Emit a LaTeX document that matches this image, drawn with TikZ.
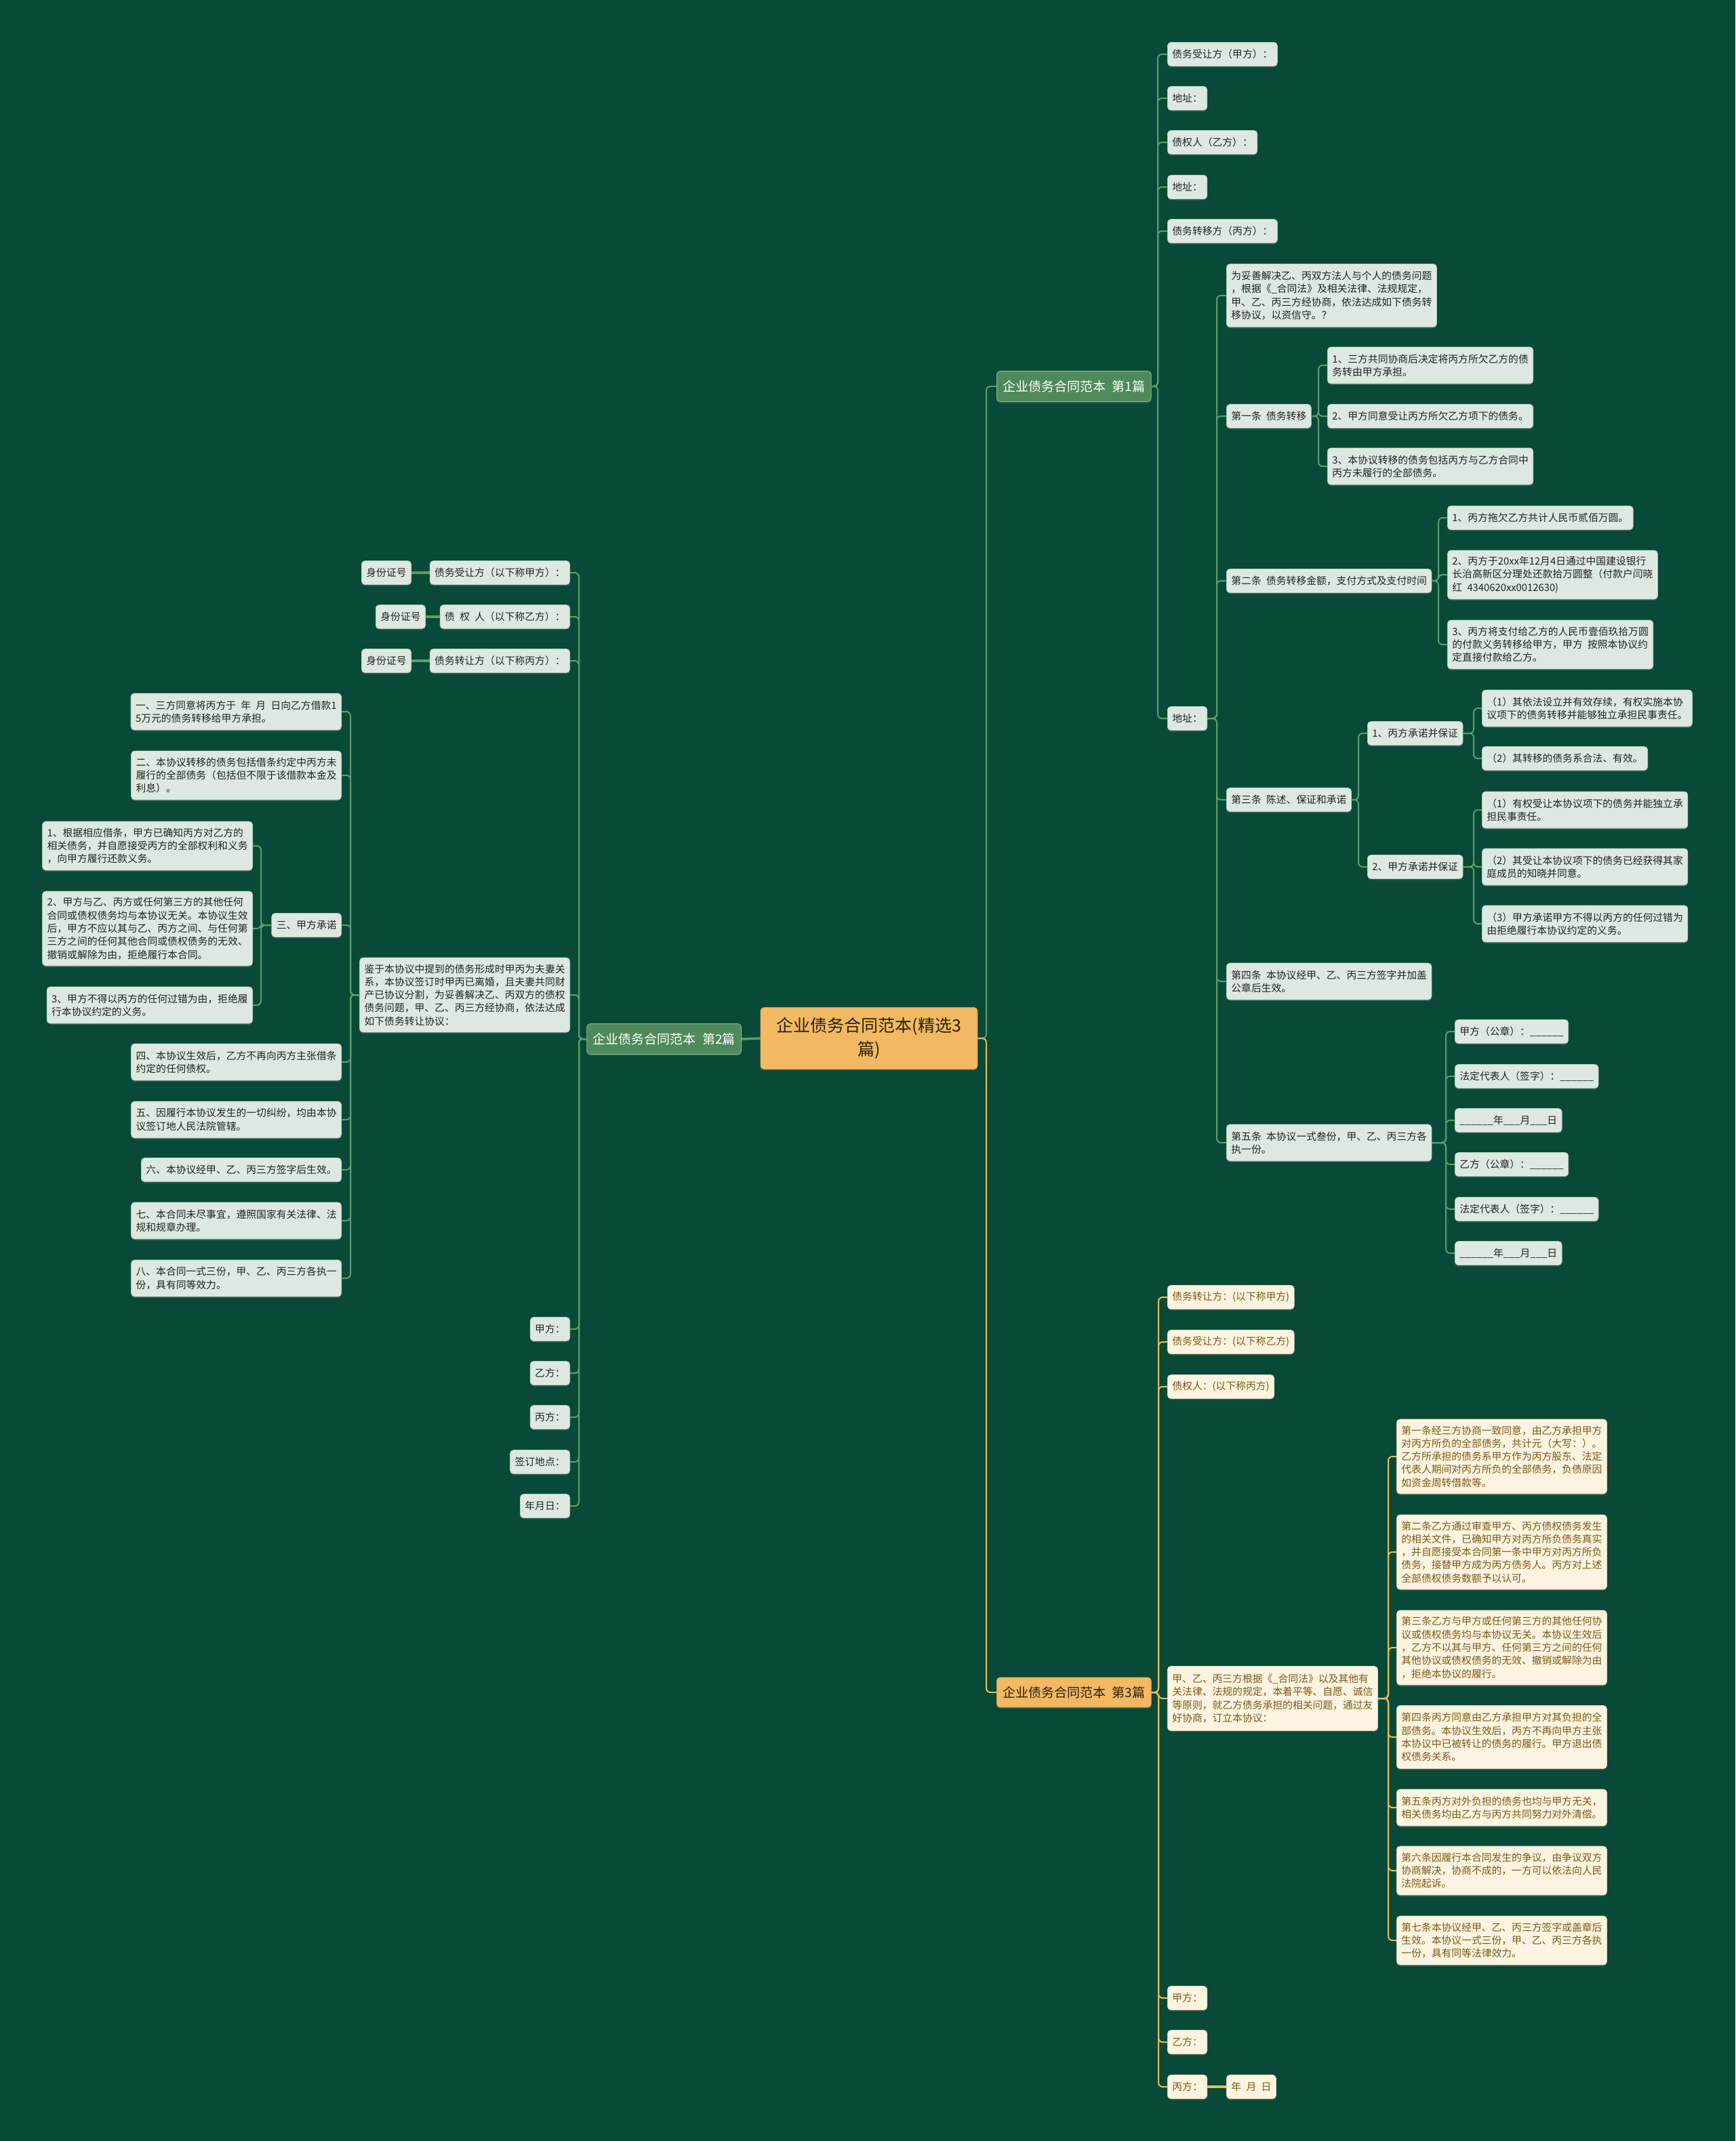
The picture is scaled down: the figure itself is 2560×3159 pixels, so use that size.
\documentclass[tikz,border=0pt]{standalone}
\usepackage{fontspec}
\newfontfamily\cjk[WordSpace=2.2]{Noto Sans CJK SC}
\usetikzlibrary{shadows}
\definecolor{bg}{HTML}{084937}
\definecolor{gfill}{HTML}{DDE9E0}
\definecolor{gline}{HTML}{B3CDB9}
\definecolor{gtext}{HTML}{222222}
\definecolor{gbr}{HTML}{4F8A5B}
\definecolor{gbrline}{HTML}{8DBC96}
\definecolor{gconn}{HTML}{5F9D6B}
\definecolor{orn}{HTML}{F2B962}
\definecolor{ornline}{HTML}{D9A04B}
\definecolor{orntext}{HTML}{2B2110}
\definecolor{yfill}{HTML}{FDF3E1}
\definecolor{yline}{HTML}{E9D6B0}
\definecolor{ytext}{HTML}{7A5A14}
\definecolor{yconn}{HTML}{E2C05A}
\newcommand\rlinks[3]{\foreach \c in {#3}{\draw[#1] (#2.east) -- (#2.east -| T#2) |- (\c.west);}}
\newcommand\llinks[3]{\foreach \c in {#3}{\draw[#1] (#2.west) -- (#2.west -| T#2) |- (\c.east);}}
\begin{document}
\begin{tikzpicture}[x=1pt,y=-1pt,
  base/.style={rounded corners=5pt, inner xsep=7pt, inner ysep=2pt, align=left, line width=0.8pt,
    drop shadow={shadow xshift=0pt,shadow yshift=-2pt,opacity=.35}},
  gn/.style={base, fill=gfill, draw=gline, text=gtext, font=\cjk\fontsize{14.8pt}{19.3pt}\selectfont},
  yn/.style={base, fill=yfill, draw=yline, text=ytext, font=\cjk\fontsize{14.8pt}{19.3pt}\selectfont},
  gb/.style={base, fill=gbr, draw=gbrline, text=white, font=\cjk\fontsize{19pt}{24pt}\selectfont, inner xsep=9pt, minimum height=45},
  ob/.style={base, fill=orn, draw=ornline, text=orntext, font=\cjk\fontsize{19pt}{24pt}\selectfont, inner xsep=9pt, minimum height=44},
  gc/.style={draw=gconn, line width=2pt, rounded corners=6pt},
  yc/.style={draw=yconn, line width=2pt, rounded corners=6pt},
  gs/.style={draw=gconn, line width=3.5pt},
  ys/.style={draw=yconn, line width=3.5pt},
  h1/.style={minimum height=35}, h2/.style={minimum height=54}, h3/.style={minimum height=72},
  h4/.style={minimum height=93}, h5/.style={minimum height=110},
  W/.style={anchor=west}, E/.style={anchor=east}]
\fill[bg] (0,0) rectangle (2560,3159);
\useasboundingbox (0,0) rectangle (2560,3159);

% root
\node[base, fill=orn, draw=ornline, text=orntext, align=center, minimum width=320, minimum height=91,
  font=\cjk\fontsize{25pt}{35pt}\selectfont] (root) at (1282,1532) {企业债务合同范本(精选3\\篇)};

% ---------------- branch 1
\node[gb,W] (b1) at (1470,570) {企业债务合同范本 第1篇};
\node[gn,h1,W] (a1) at (1722,80) {债务受让方（甲方）：};
\node[gn,h1,W] (a2) at (1722,145) {地址：};
\node[gn,h1,W] (a3) at (1722,210) {债权人（乙方）：};
\node[gn,h1,W] (a4) at (1722,276) {地址：};
\node[gn,h1,W] (a5) at (1722,341) {债务转移方（丙方）：};
\node[gn,h1,W] (a6) at (1722,1060) {地址：};

\node[gn,h4,W] (c1) at (1809,436) {为妥善解决乙、丙双方法人与个人的债务问题\\，根据《\_合同法》及相关法律、法规规定，\\甲、乙、丙三方经协商，依法达成如下债务转\\移协议，以资信守。？};
\node[gn,h1,W] (c2) at (1809,614) {第一条 债务转移};
\node[gn,h1,W] (c3) at (1809,857) {第二条 债务转移金额，支付方式及支付时间};
\node[gn,h1,W] (c4) at (1809,1180) {第三条 陈述、保证和承诺};
\node[gn,h2,W] (c5) at (1809,1448) {第四条 本协议经甲、乙、丙三方签字并加盖\\公章后生效。};
\node[gn,h2,W] (c6) at (1809,1686) {第五条 本协议一式叁份，甲、乙、丙三方各\\执一份。};

\node[gn,h2,W] (d1) at (1958,539) {1、三方共同协商后决定将丙方所欠乙方的债\\务转由甲方承担。};
\node[gn,h1,W] (d2) at (1958,614) {2、甲方同意受让丙方所欠乙方项下的债务。};
\node[gn,h2,W] (d3) at (1958,688) {3、本协议转移的债务包括丙方与乙方合同中\\丙方未履行的全部债务。};

\node[gn,h1,W] (f1) at (2135,764) {1、丙方拖欠乙方共计人民币贰佰万圆。};
\node[gn,h3,W] (f2) at (2135,848) {2、丙方于20xx年12月4日通过中国建设银行\\长治高新区分理处还款拾万圆整（付款户闫晓\\红 4340620xx0012630)};
\node[gn,h3,W] (f3) at (2135,951) {3、丙方将支付给乙方的人民币壹佰玖拾万圆\\的付款义务转移给甲方，甲方 按照本协议约\\定直接付款给乙方。};

\node[gn,h1,W] (e1) at (2017,1082) {1、丙方承诺并保证};
\node[gn,h1,W] (e2) at (2017,1279) {2、甲方承诺并保证};
\node[gn,h2,W] (e11) at (2186,1045) {（1）其依法设立并有效存续，有权实施本协\\议项下的债务转移并能够独立承担民事责任。};
\node[gn,h1,W] (e12) at (2186,1119) {（2）其转移的债务系合法、有效。};
\node[gn,h2,W] (e21) at (2186,1195) {（1）有权受让本协议项下的债务并能独立承\\担民事责任。};
\node[gn,h2,W] (e22) at (2186,1279) {（2）其受让本协议项下的债务已经获得其家\\庭成员的知晓并同意。};
\node[gn,h2,W] (e23) at (2186,1363) {（3）甲方承诺甲方不得以丙方的任何过错为\\由拒绝履行本协议约定的义务。};

\node[gn,h1,W] (g1) at (2146,1522) {甲方（公章）：\_\_\_\_\_\_};
\node[gn,h1,W] (g2) at (2146,1588) {法定代表人（签字）：\_\_\_\_\_\_};
\node[gn,h1,W] (g3) at (2146,1653) {\_\_\_\_\_\_年\_\_\_月\_\_\_日};
\node[gn,h1,W] (g4) at (2146,1718) {乙方（公章）：\_\_\_\_\_\_};
\node[gn,h1,W] (g5) at (2146,1784) {法定代表人（签字）：\_\_\_\_\_\_};
\node[gn,h1,W] (g6) at (2146,1849) {\_\_\_\_\_\_年\_\_\_月\_\_\_日};

% ---------------- branch 3
\node[ob,W] (b3) at (1470,2497) {企业债务合同范本 第3篇};
\node[yn,h1,W] (y1) at (1722,1914) {债务转让方：(以下称甲方)};
\node[yn,h1,W] (y2) at (1722,1980) {债务受让方：(以下称乙方)};
\node[yn,h1,W] (y3) at (1722,2046) {债权人：(以下称丙方)};
\node[yn,minimum height=95,W] (yp) at (1722,2506) {甲、乙、丙三方根据《\_合同法》以及其他有\\关法律、法规的规定，本着平等、自愿、诚信\\等原则，就乙方债务承担的相关问题，通过友\\好协商，订立本协议：};
\node[yn,h1,W] (y5) at (1722,2948) {甲方：};
\node[yn,h1,W] (y6) at (1722,3013) {乙方：};
\node[yn,h1,W] (y7) at (1722,3079) {丙方：};
\node[yn,h1,W] (y8) at (1809,3079) {年 月 日};

\node[yn,h5,W] (p1) at (2060,2149) {第一条经三方协商一致同意，由乙方承担甲方\\对丙方所负的全部债务，共计元（大写：）。\\乙方所承担的债务系甲方作为丙方股东、法定\\代表人期间对丙方所负的全部债务，负债原因\\如资金周转借款等。};
\node[yn,h5,W] (p2) at (2060,2290) {第二条乙方通过审查甲方、丙方债权债务发生\\的相关文件，已确知甲方对丙方所负债务真实\\，并自愿接受本合同第一条中甲方对丙方所负\\债务，接替甲方成为丙方债务人。丙方对上述\\全部债权债务数额予以认可。};
\node[yn,h5,W] (p3) at (2060,2431) {第三条乙方与甲方或任何第三方的其他任何协\\议或债权债务均与本协议无关。本协议生效后\\，乙方不以其与甲方、任何第三方之间的任何\\其他协议或债权债务的无效、撤销或解除为由\\，拒绝本协议的履行。};
\node[yn,h4,W] (p4) at (2060,2563) {第四条丙方同意由乙方承担甲方对其负担的全\\部债务。本协议生效后，丙方不再向甲方主张\\本协议中已被转让的债务的履行。甲方退出债\\权债务关系。};
\node[yn,h2,W] (p5) at (2060,2667) {第五条丙方对外负担的债务也均与甲方无关，\\相关债务均由乙方与丙方共同努力对外清偿。};
\node[yn,h3,W] (p6) at (2060,2760) {第六条因履行本合同发生的争议，由争议双方\\协商解决，协商不成的，一方可以依法向人民\\法院起诉。};
\node[yn,h3,W] (p7) at (2060,2863) {第七条本协议经甲、乙、丙三方签字或盖章后\\生效。本协议一式三份，甲、乙、丙三方各执\\一份，具有同等法律效力。};

% ---------------- branch 2
\node[gb,E] (b2) at (1094,1533) {企业债务合同范本 第2篇};
\node[gn,h1,E] (k1) at (841,845) {债务受让方（以下称甲方）：};
\node[gn,h1,E] (k2) at (841,910) {债 权 人（以下称乙方）：};
\node[gn,h1,E] (k3) at (841,975) {债务转让方（以下称丙方）：};
\node[gn,h1,E] (i1) at (607,845) {身份证号};
\node[gn,h1,E] (i2) at (628,910) {身份证号};
\node[gn,h1,E] (i3) at (607,975) {身份证号};
\node[gn,h5,E] (k4) at (841,1468) {鉴于本协议中提到的债务形成时甲丙为夫妻关\\系，本协议签订时甲丙已离婚，且夫妻共同财\\产已协议分割，为妥善解决乙、丙双方的债权\\债务问题，甲、乙、丙三方经协商，依法达成\\如下债务转让协议：};
\node[gn,h1,E] (k5) at (841,1961) {甲方：};
\node[gn,h1,E] (k6) at (841,2026) {乙方：};
\node[gn,h1,E] (k7) at (841,2091) {丙方：};
\node[gn,h1,E] (k8) at (841,2157) {签订地点：};
\node[gn,h1,E] (k9) at (841,2222) {年月日：};

\node[gn,h2,E] (m1) at (504,1050) {一、三方同意将丙方于 年 月 日向乙方借款1\\5万元的债务转移给甲方承担。};
\node[gn,h3,E] (m2) at (504,1144) {二、本协议转移的债务包括借条约定中丙方未\\履行的全部债务（包括但不限于该借款本金及\\利息）。};
\node[gn,h1,E] (m3) at (504,1365) {三、甲方承诺};
\node[gn,h2,E] (m4) at (504,1567) {四、本协议生效后，乙方不再向丙方主张借条\\约定的任何债权。};
\node[gn,h2,E] (m5) at (504,1652) {五、因履行本协议发生的一切纠纷，均由本协\\议签订地人民法院管辖。};
\node[gn,h1,E] (m6) at (504,1726) {六、本协议经甲、乙、丙三方签字后生效。};
\node[gn,h2,E] (m7) at (504,1801) {七、本合同未尽事宜，遵照国家有关法律、法\\规和规章办理。};
\node[gn,h2,E] (m8) at (504,1886) {八、本合同一式三份，甲、乙、丙三方各执一\\份，具有同等效力。};

\node[gn,h3,E] (q1) at (373,1248) {1、根据相应借条，甲方已确知丙方对乙方的\\相关债务，并自愿接受丙方的全部权利和义务\\，向甲方履行还款义务。};
\node[gn,h5,E] (q2) at (373,1370) {2、甲方与乙、丙方或任何第三方的其他任何\\合同或债权债务均与本协议无关。本协议生效\\后，甲方不应以其与乙、丙方之间、与任何第\\三方之间的任何其他合同或债权债务的无效、\\撤销或解除为由，拒绝履行本合同。};
\node[gn,h2,E] (q3) at (373,1483) {3、甲方不得以丙方的任何过错为由，拒绝履\\行本协议约定的义务。};

% ---------------- trunks
\coordinate (Troot) at (1455,0);
\coordinate (Tb1) at (1708,0);
\coordinate (Ta6) at (1795,0);
\coordinate (Tc2) at (1945,0);
\coordinate (Tc3) at (2122,0);
\coordinate (Tc4) at (2004,0);
\coordinate (Te1) at (2174,0);
\coordinate (Te2) at (2174,0);
\coordinate (Tc6) at (2133,0);
\coordinate (Tb3) at (1709,0);
\coordinate (Typ) at (2048,0);
\coordinate (Tb2) at (854,0);
\coordinate (Tk4) at (517,0);
\coordinate (Tm3) at (385,0);

% ---------------- connectors
\rlinks{gc}{root}{b1}
\rlinks{yc}{root}{b3}
\draw[gs] (root.west) -- (b2.east);
\rlinks{gc}{b1}{a1,a2,a3,a4,a5,a6}
\rlinks{gc}{a6}{c1,c2,c3,c4,c5,c6}
\rlinks{gc}{c2}{d1,d2,d3}
\rlinks{gc}{c3}{f1,f2,f3}
\rlinks{gc}{c4}{e1,e2}
\rlinks{gc}{e1}{e11,e12}
\rlinks{gc}{e2}{e21,e22,e23}
\rlinks{gc}{c6}{g1,g2,g3,g4,g5,g6}
\rlinks{yc}{b3}{y1,y2,y3,yp,y5,y6,y7}
\rlinks{yc}{yp}{p1,p2,p3,p4,p5,p6,p7}
\draw[ys] (y7.east) -- (y8.west);
\llinks{gc}{b2}{k1,k2,k3,k4,k5,k6,k7,k8,k9}
\llinks{gc}{k4}{m1,m2,m3,m4,m5,m6,m7,m8}
\llinks{gc}{m3}{q1,q2,q3}
\draw[gs] (k1.west) -- (i1.east);
\draw[gs] (k2.west) -- (i2.east);
\draw[gs] (k3.west) -- (i3.east);
\end{tikzpicture}
\end{document}
